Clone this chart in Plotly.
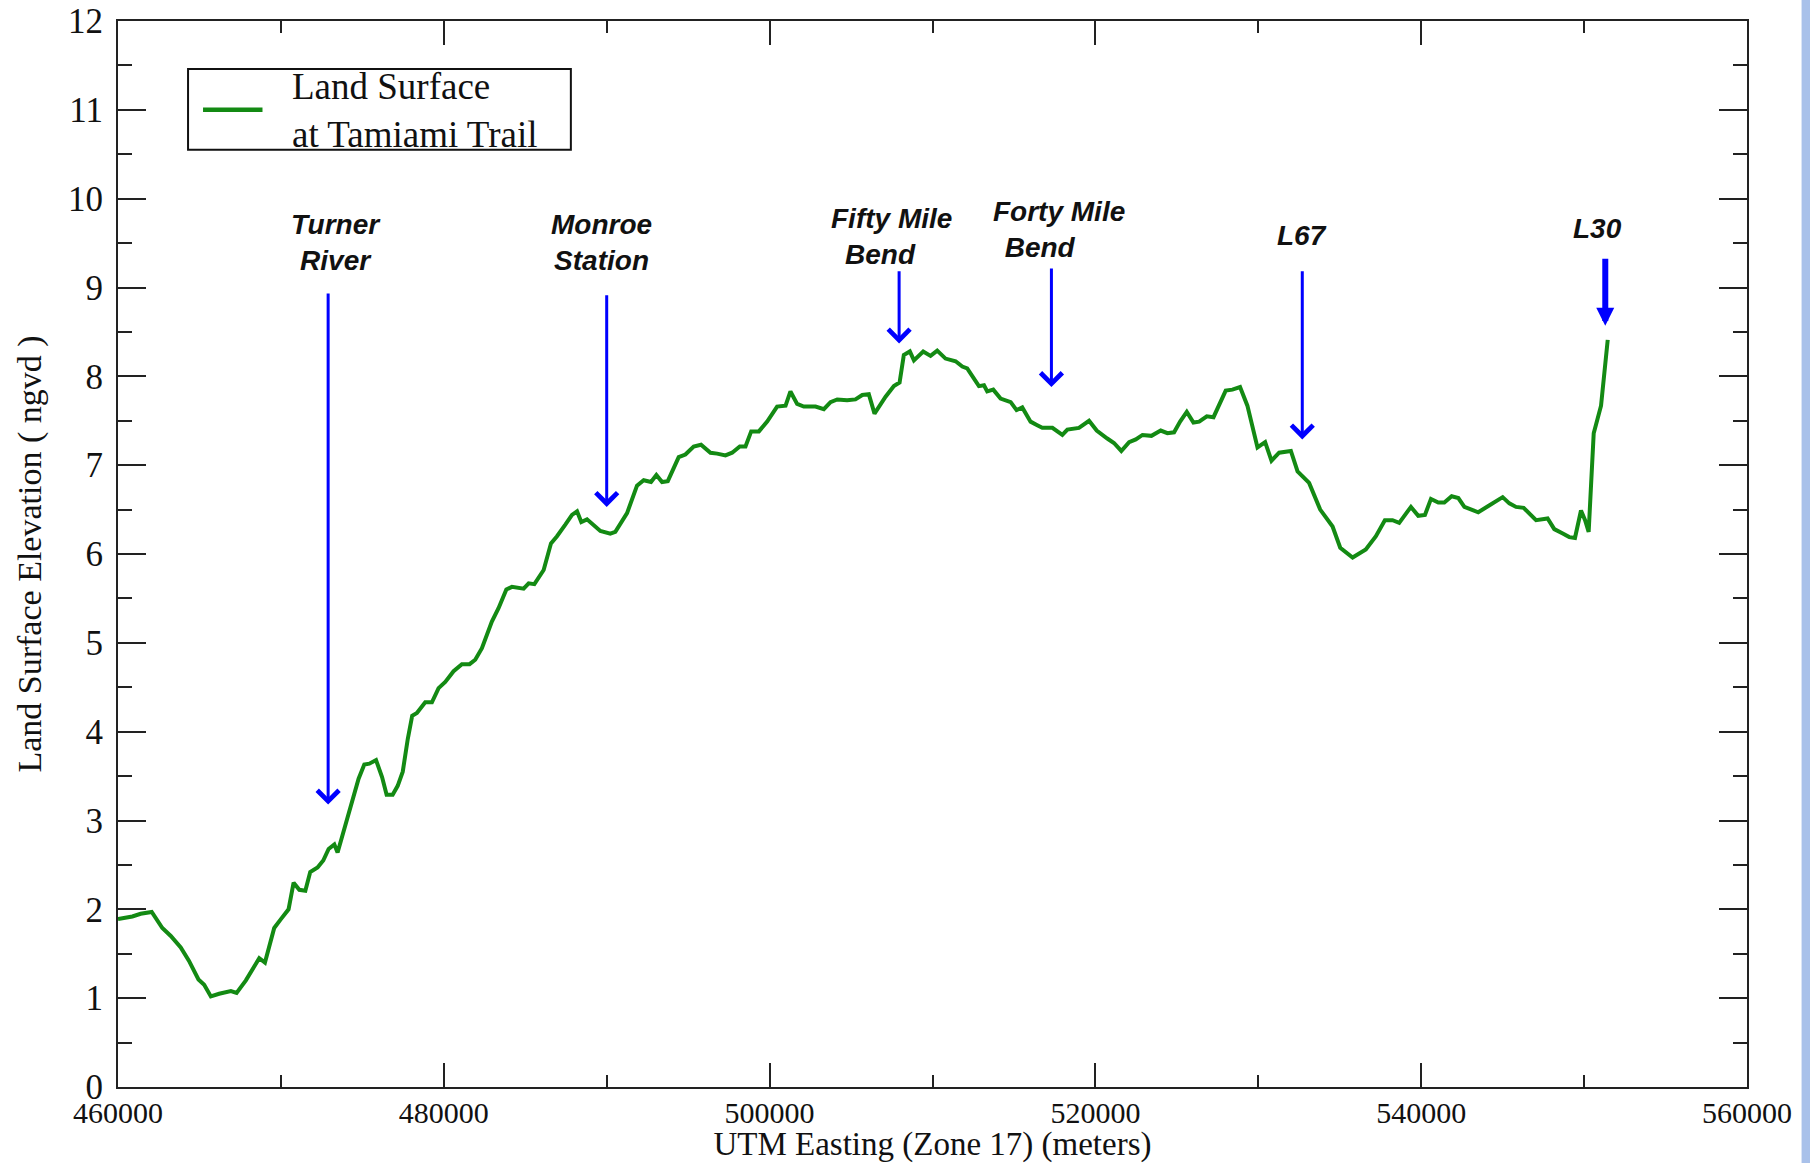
import plotly.graph_objects as go

# Land-surface profile along Tamiami Trail (UTM easting in m, elevation in ft NGVD)
easting = [
    460000, 460880, 461390, 462070, 462720, 463240, 463850, 464360, 464940, 465290,
    465700, 466210, 466930, 467280, 467850, 468670, 469020, 469590, 470000, 470470,
    470780, 471130, 471500, 471800, 472250, 472600, 472930, 473280, 473480, 473890,
    474300, 474770, 475120, 475430, 475840, 476210, 476490, 476860, 477170, 477480,
    477790, 478060, 478350, 478860, 479270, 479680, 480090, 480600, 481110, 481580,
    481930, 482340, 482950, 483360, 483840, 484180, 484900, 485210, 485560, 486130,
    486580, 486950, 487460, 487870, 488180, 488440, 488790, 489610, 490220, 490530,
    491250, 491860, 492270, 492720, 493050, 493400, 493750, 494420, 494830, 495340,
    495790, 496370, 496780, 497290, 497700, 498170, 498520, 498870, 499340, 499850,
    500460, 500980, 501280, 501690, 502100, 502820, 503330, 503740, 504150, 504760,
    505270, 505690, 506090, 506440, 507120, 507630, 507980, 508240, 508610, 508860,
    509430, 509880, 510290, 510800, 511420, 511830, 512130, 512850, 513160, 513360,
    513730, 514180, 514800, 515160, 515510, 516020, 516430, 516740, 517360, 517970,
    518280, 518990, 519610, 520080, 520730, 521140, 521590, 522070, 522480, 522890,
    523440, 524010, 524420, 524830, 525200, 525610, 526020, 526370, 526840, 527250,
    528000, 528410, 528880, 529330, 529950, 530420, 530810, 531280, 532000, 532410,
    533120, 533800, 534560, 535030, 535790, 536600, 537220, 537770, 538240, 538650,
    539370, 539820, 540230, 540600, 541050, 541420, 541870, 542280, 542650, 543050,
    543500, 544120, 544590, 545000, 545410, 545820, 546290, 547050, 547760, 548170,
    548690, 549090, 549440, 549810, 550060, 550280, 550590, 551040, 551450,
]
elevation = [
    1.89, 1.92, 1.95, 1.97, 1.79, 1.70, 1.57, 1.42, 1.21, 1.15,
    1.02, 1.05, 1.08, 1.06, 1.20, 1.45, 1.40, 1.79, 1.89, 2.00,
    2.30, 2.22, 2.21, 2.42, 2.47, 2.55, 2.68, 2.73, 2.64, 2.91,
    3.15, 3.47, 3.63, 3.64, 3.68, 3.49, 3.29, 3.29, 3.39, 3.55,
    3.92, 4.18, 4.21, 4.33, 4.33, 4.49, 4.56, 4.68, 4.76, 4.76,
    4.81, 4.94, 5.24, 5.39, 5.60, 5.63, 5.61, 5.67, 5.66, 5.82,
    6.12, 6.20, 6.33, 6.44, 6.48, 6.36, 6.39, 6.26, 6.23, 6.25,
    6.46, 6.77, 6.83, 6.81, 6.89, 6.81, 6.82, 7.09, 7.12, 7.21,
    7.23, 7.14, 7.13, 7.11, 7.14, 7.21, 7.21, 7.38, 7.38, 7.49,
    7.66, 7.67, 7.83, 7.69, 7.66, 7.66, 7.63, 7.71, 7.74, 7.73,
    7.74, 7.79, 7.80, 7.58, 7.77, 7.89, 7.93, 8.24, 8.28, 8.18,
    8.28, 8.23, 8.29, 8.20, 8.17, 8.11, 8.09, 7.89, 7.90, 7.83,
    7.85, 7.75, 7.71, 7.62, 7.65, 7.49, 7.45, 7.42, 7.42, 7.34,
    7.40, 7.42, 7.50, 7.39, 7.30, 7.25, 7.16, 7.26, 7.29, 7.34,
    7.33, 7.39, 7.36, 7.37, 7.49, 7.60, 7.48, 7.49, 7.55, 7.54,
    7.84, 7.85, 7.88, 7.67, 7.20, 7.26, 7.05, 7.14, 7.16, 6.93,
    6.80, 6.50, 6.31, 6.07, 5.96, 6.05, 6.20, 6.38, 6.38, 6.35,
    6.53, 6.43, 6.44, 6.62, 6.58, 6.58, 6.65, 6.63, 6.53, 6.50,
    6.47, 6.54, 6.59, 6.64, 6.57, 6.53, 6.52, 6.38, 6.40, 6.28,
    6.23, 6.19, 6.18, 6.49, 6.38, 6.25, 7.36, 7.67, 8.41,
]

# Landmarks along the trail: label text, label centre, arrow easting and tail / tip elevation
site_labels = ["Turner<br>River", "Monroe<br>Station",
               "Fifty Mile<br>Bend&nbsp;&nbsp;&nbsp;", "Forty Mile<br>Bend&nbsp;&nbsp;&nbsp;&nbsp;&nbsp;",
               "L67", "L30"]
site_label_x = [473380, 489700, 507500, 517760, 532700, 550800]
site_label_y = [9.51, 9.51, 9.575, 9.65, 9.58, 9.66]
arrow_x = [472900, 490000, 507950, 517300, 532700, 551300]
arrow_tail = [8.95, 8.93, 9.20, 9.23, 9.20, 9.34]
arrow_tip = [3.18, 6.53, 8.37, 7.88, 7.29, 8.57]
arrow_width = [3, 3, 3, 3, 3, 6]

legend_label = "Land Surface<br>at Tamiami Trail"

x_ticks = [460000, 480000, 500000, 520000, 540000, 560000]
y_ticks = list(range(0, 13))

SERIF = "Liberation Serif"
SANS = "Liberation Sans"
GREEN = "#138a13"
BLUE = "#0000ff"
INK = "#111111"
AXIS = "#222222"

fig = go.Figure()
fig.add_trace(go.Scatter(
    x=easting, y=elevation, mode="lines",
    line=dict(color=GREEN, width=4),
    name="Land Surface at Tamiami Trail", showlegend=False,
    hoverinfo="x+y",
))

annotations = []
for txt, lx, ly in zip(site_labels, site_label_x, site_label_y):
    annotations.append(dict(
        x=lx, y=ly, xref="x", yref="y", text=f"<b><i>{txt}</i></b>",
        showarrow=False, xanchor="center", yanchor="middle", align="center",
        font=dict(family=SANS, size=28, color=INK),
    ))

# thin arrows get an open chevron head, the heavy L30 arrow a solid head
for ax_, tail, tip, w in zip(arrow_x, arrow_tail, arrow_tip, arrow_width):
    thin = w < 5
    annotations.append(dict(
        x=ax_, y=tip, ax=ax_, ay=tail, xref="x", yref="y", axref="x", ayref="y",
        text="", showarrow=True, arrowhead=4 if thin else 2,
        arrowsize=1.4 if thin else 0.6,
        arrowwidth=w, arrowcolor=BLUE, standoff=0, startstandoff=0,
    ))

# Boxed key: sample line plus two-line label
annotations.append(dict(
    x=470550, y=10.995, xref="x", yref="y", text=legend_label, showarrow=False,
    xanchor="left", yanchor="middle", align="left",
    font=dict(family=SERIF, size=37, color=INK),
))

shapes = [
    dict(type="rect", xref="x", yref="y", x0=464300, x1=487800, y0=10.55, y1=11.46,
         line=dict(color=INK, width=2), fillcolor="white", layer="below"),
    dict(type="line", xref="x", yref="y", x0=465220, x1=468870, y0=11.0, y1=11.0,
         line=dict(color=GREEN, width=4.5)),
    # pale blue strip at the right edge of the page
    dict(type="rect", xref="paper", yref="paper", x0=1.0335, x1=1.06, y0=-0.2, y1=1.2,
         line=dict(width=0), fillcolor="#a9c1ea", layer="above"),
]

axis_common = dict(
    showgrid=False, zeroline=False, showline=True, linecolor=AXIS, linewidth=2,
    mirror="ticks", ticks="inside", tickcolor=AXIS, tickwidth=2, automargin=False,
)

fig.update_layout(
    width=1810, height=1163,
    margin=dict(l=118, r=63, t=21, b=76),
    paper_bgcolor="white", plot_bgcolor="white",
    showlegend=False,
    annotations=annotations, shapes=shapes,
    xaxis=dict(
        range=[460000, 560000], tickvals=x_ticks, ticktext=[str(v) for v in x_ticks],
        ticklen=24, minor=dict(dtick=10000, ticklen=12, tickwidth=2, tickcolor=AXIS,
                               ticks="inside", showgrid=False),
        tickfont=dict(family=SERIF, size=30, color=INK),
        title=dict(text="UTM Easting (Zone 17) (meters)", standoff=0,
                   font=dict(family=SERIF, size=33, color=INK)),
        ticklabelstandoff=-2,
        **axis_common,
    ),
    yaxis=dict(
        range=[0, 12], tickvals=y_ticks, ticklen=28,
        minor=dict(dtick=0.5, ticklen=14, tickwidth=2, tickcolor=AXIS,
                   ticks="inside", showgrid=False),
        tickfont=dict(family=SERIF, size=35, color=INK),
        title=dict(text="Land Surface Elevation ( ngvd )", standoff=16,
                   font=dict(family=SERIF, size=34, color=INK)),
        ticklabelstandoff=6,
        **axis_common,
    ),
)

fig.write_html("out.html")
